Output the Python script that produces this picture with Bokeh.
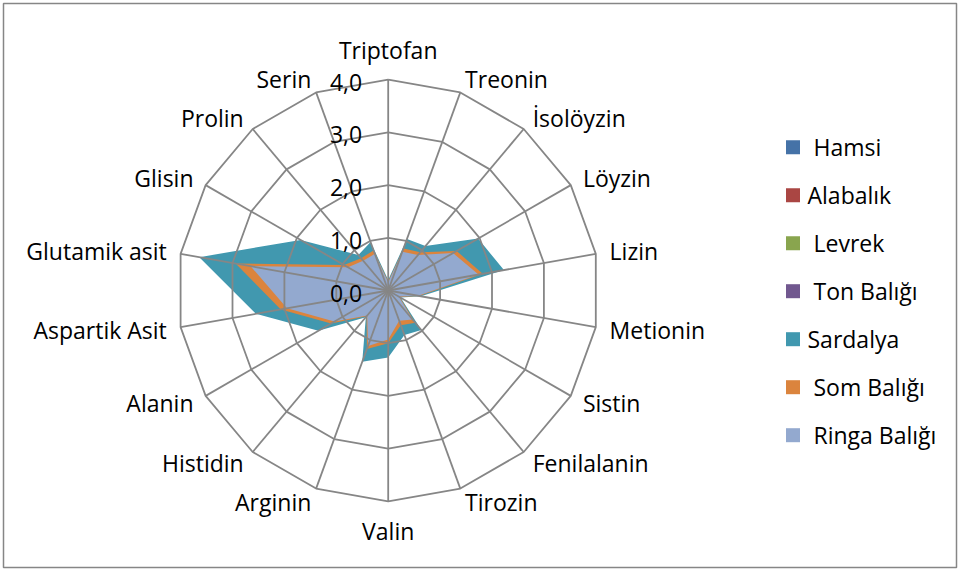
import numpy as np
from bokeh.plotting import figure
from bokeh.models import Range1d
from bokeh.core.properties import value
from bokeh.embed import file_html
from bokeh.resources import INLINE

# ---------------- data ----------------
categories = ["Triptofan", "Treonin", "İsolöyzin", "Löyzin", "Lizin", "Metionin",
              "Sistin", "Fenilalanin", "Tirozin", "Valin", "Arginin", "Histidin",
              "Alanin", "Aspartik Asit", "Glutamik asit", "Glisin", "Prolin", "Serin"]

series_names = [" Hamsi", "Alabalık", " Levrek", " Ton Balığı", "Sardalya",
                " Som Balığı", " Ringa Balığı"]

hamsi    = [0.12, 0.60, 0.70, 1.10, 1.30, 0.45, 0.18, 0.55, 0.50, 0.75, 0.90, 0.50, 0.95, 1.50, 2.10, 0.70, 0.60, 0.60]
alabalik = [0.10, 0.55, 0.65, 1.05, 1.25, 0.40, 0.15, 0.50, 0.45, 0.70, 0.85, 0.45, 0.90, 1.45, 2.00, 0.65, 0.55, 0.55]
levrek   = [0.11, 0.58, 0.68, 1.00, 1.20, 0.42, 0.17, 0.52, 0.48, 0.72, 0.80, 0.48, 0.85, 1.40, 1.95, 0.60, 0.50, 0.58]
ton      = [0.13, 0.62, 0.72, 1.15, 1.35, 0.48, 0.20, 0.58, 0.52, 0.78, 0.95, 0.52, 1.00, 1.60, 2.20, 0.75, 0.62, 0.62]
sardalya = [0.20, 1.04, 1.10, 1.97, 2.23, 0.63, 0.27, 0.98, 0.90, 1.27, 1.44, 0.66, 1.53, 2.55, 3.64, 1.92, 0.88, 0.98]
som      = [0.17, 0.85, 0.95, 1.50, 1.82, 0.60, 0.25, 0.80, 0.70, 1.00, 1.18, 0.64, 1.25, 2.07, 2.94, 0.97, 0.80, 0.81]
ringa    = [0.15, 0.78, 0.88, 1.42, 1.74, 0.58, 0.23, 0.72, 0.61, 0.93, 1.12, 0.62, 1.18, 1.95, 2.65, 0.88, 0.74, 0.74]

tick_values = [0, 1, 2, 3, 4]
tick_labels = ["0,0", "1,0", "2,0", "3,0", "4,0"]

colors = ["#4572A7", "#AA4643", "#89A54E", "#71588F", "#4198AF", "#DB843D", "#93A9CF"]
all_series = [hamsi, alabalik, levrek, ton, sardalya, som, ringa]

# ---------------- layout ----------------
W, H = 958, 570
CX, CY = 387.7, 290.0      # radar centre in canvas pixels
PX = 52.7                  # pixels per unit
FONT = "Open Sans"
FS = "23px"
GRID = "#868686"


def ux(px):
    return (px - CX) / PX


def uy(py):
    return (CY - py) / PX


p = figure(width=W, height=H, output_backend="svg", toolbar_location=None,
           x_range=Range1d(ux(0), ux(W)), y_range=Range1d(uy(H), uy(0)),
           x_axis_location=None, y_axis_location=None, min_border=0)
p.grid.visible = False
p.outline_line_color = None
p.background_fill_color = "white"
p.border_fill_color = "white"

# chart-area border
p.quad(left=[ux(3)], right=[ux(956)], top=[uy(3)], bottom=[uy(567)],
       fill_color=None, line_color=GRID, line_width=1.5)

n = len(categories)
theta = np.arange(n) * 2 * np.pi / n
sx, sy = np.sin(theta), np.cos(theta)

# filled series (first series at the bottom)
for vals, col in zip(all_series, colors):
    v = np.array(vals)
    p.patch(list(v * sx), list(v * sy), fill_color=col, line_color=None)

# grid rings and spokes
rmax = max(tick_values)
for r in tick_values[1:]:
    xs = list(r * sx) + [r * sx[0]]
    ys = list(r * sy) + [r * sy[0]]
    p.line(xs, ys, line_color=GRID, line_width=1.8)
p.segment(x0=[0] * n, y0=[0] * n, x1=list(rmax * sx), y1=list(rmax * sy),
          line_color=GRID, line_width=1.8)

# radial tick labels
p.text(x=[-26 / PX] * len(tick_values), y=[t - 2.5 / PX for t in tick_values], text=tick_labels,
       text_align="right", text_baseline="middle", text_font=value(FONT),
       text_font_size=FS, text_color="black")

# category labels
gap = (rmax * PX + 14) / PX
groups = {}
for i, c in enumerate(categories):
    s, co = sx[i], sy[i]
    align = "left" if s > 0.05 else ("right" if s < -0.05 else "center")
    base = "bottom" if co > 0.95 else ("top" if co < -0.95 else "middle")
    groups.setdefault((align, base), []).append((gap * s, gap * co, c))
for (align, base), items in groups.items():
    p.text(x=[it[0] for it in items], y=[it[1] for it in items], text=[it[2] for it in items],
           text_align=align, text_baseline=base, text_font=value(FONT),
           text_font_size=FS, text_color="black")

# legend (manual); leading spaces kept visible with no-break spaces
leg_labels = ["\u00a0" + s[1:] if s.startswith(" ") else s for s in series_names]
leg_y = [uy(146.7 + 48 * k) for k in range(len(series_names))]
p.scatter(x=[ux(792.5)] * len(series_names), y=leg_y, marker="square", size=14,
          fill_color=colors, line_color=None)
p.text(x=[ux(807)] * len(series_names), y=leg_y, text=leg_labels,
       text_align="left", text_baseline="middle", text_font=value(FONT),
       text_font_size=FS, text_color="black")

open("out.html", "w").write(file_html(p, INLINE))
